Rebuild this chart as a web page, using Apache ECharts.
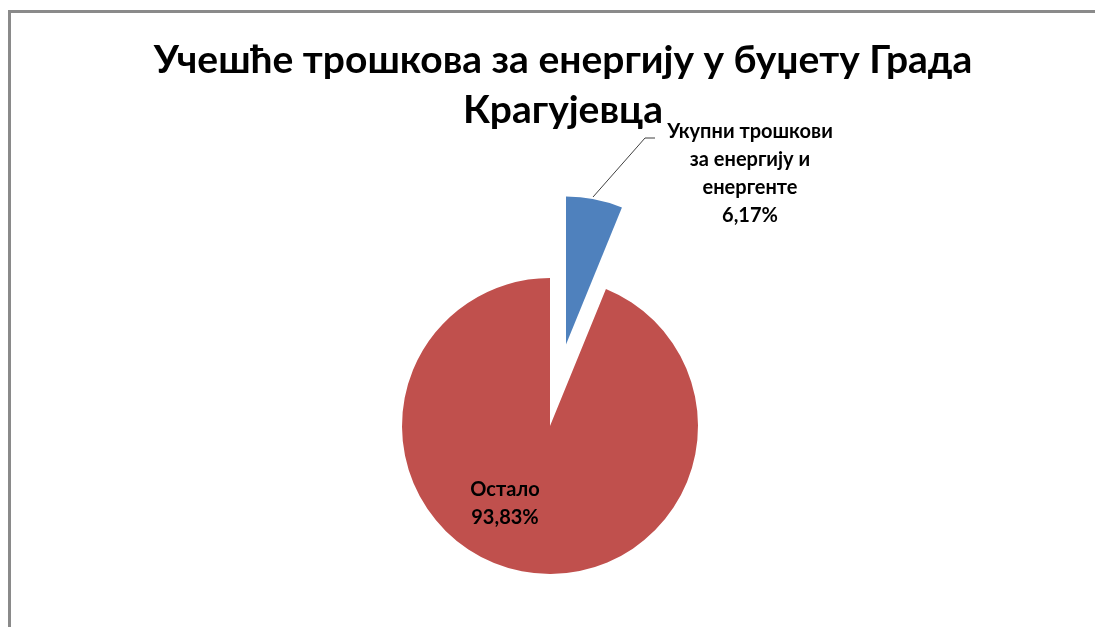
<!DOCTYPE html>
<html>
<head>
<meta charset="utf-8">
<script src="https://cdn.jsdelivr.net/npm/echarts@6/dist/echarts.min.js"></script>
<style>
  html, body { margin: 0; padding: 0; background: #fff; }
  #frame { position: absolute; left: 8px; top: 10px; width: 1100px; height: 630px;
           border-left: 3px solid #8a8a8a; border-top: 3px solid #8a8a8a; }
  #chart { position: absolute; left: 0; top: 0; width: 1095px; height: 627px; }
</style>
</head>
<body>
<div id="frame"></div>
<div id="chart"></div>
<script>
// Budget share of energy costs, City of Kragujevac
const titleText = 'Учешће трошкова за енергију у буџету Града\nКрагујевца';
const categories = ['Укупни трошкови\nза енергију и\nенергенте', 'Остало'];
const shares = [6.17, 93.83];
const sliceColors = ['#4f81bd', '#c0504d'];

const fmt = v => v.toFixed(2).replace('.', ',') + '%';

const pieCenter = [550, 426];
const pieRadius = 148;
const explode = 83;

// The first slice is pulled out along its bisector
const total = shares.reduce((a, b) => a + b, 0);
const midAngle = (shares[0] / total) * Math.PI; // radians, clockwise from 12 o'clock
const explodedCenter = [
  pieCenter[0] + explode * Math.sin(midAngle),
  pieCenter[1] - explode * Math.cos(midAngle)
];

const labelFont = {
  fontFamily: 'Lato',
  fontWeight: 'bold',
  fontSize: 20,
  lineHeight: 28,
  color: '#000',
  align: 'center'
};

function pieSeries(center, showIndex, labelPos, linePoints) {
  return {
    type: 'pie',
    center: center,
    radius: pieRadius,
    startAngle: 90,
    clockwise: true,
    avoidLabelOverlap: false,
    silent: true,
    emphasis: { disabled: true },
    data: categories.map((name, i) => ({
      name,
      value: shares[i],
      itemStyle: { color: i === showIndex ? sliceColors[i] : 'rgba(0,0,0,0)' },
      label: { show: i === showIndex },
      labelLine: { show: i === showIndex && !!linePoints }
    })),
    label: Object.assign({
      show: true,
      formatter: p => p.name + '\n' + fmt(p.value)
    }, labelFont),
    labelLine: {
      show: !!linePoints,
      lineStyle: { color: '#404040', width: 1 }
    },
    labelLayout: function () {
      const r = { x: labelPos[0], y: labelPos[1], align: 'center', verticalAlign: 'middle' };
      if (linePoints) r.labelLinePoints = linePoints;
      return r;
    }
  };
}

const chart = echarts.init(document.getElementById('chart'), null, { renderer: 'canvas' });

chart.setOption({
  animation: false,
  title: {
    text: titleText,
    left: 558,
    top: 30,
    textAlign: 'center',
    textStyle: {
      fontFamily: 'Lato',
      fontWeight: 'bold',
      fontSize: 39,
      lineHeight: 50,
      color: '#000'
    }
  },
  series: [
    pieSeries(pieCenter, 1, [505, 504], null),
    pieSeries(explodedCenter, 0, [750, 174], [[593, 197], [645, 138], [655, 138]])
  ]
});
</script>
</body>
</html>
